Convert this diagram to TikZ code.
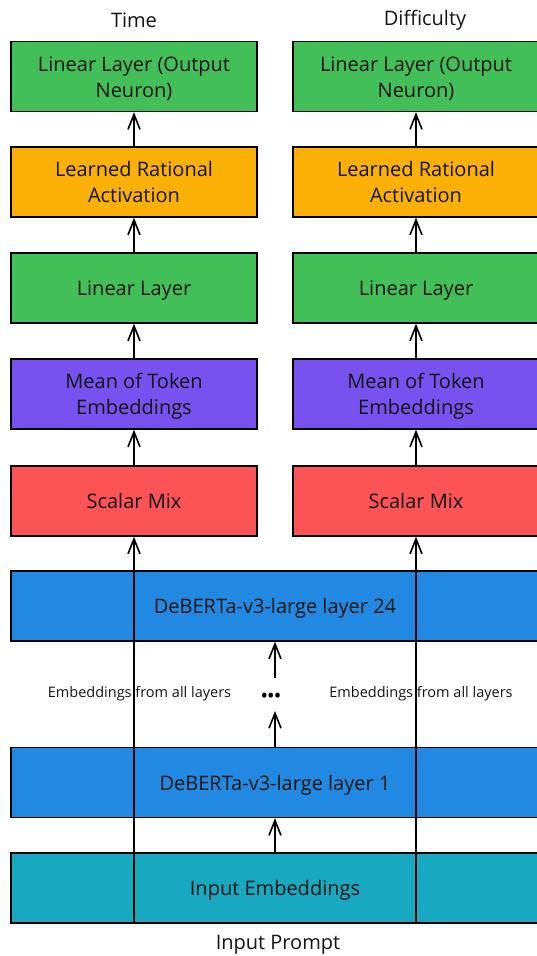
\documentclass[tikz,border=0pt]{standalone}
\usepackage{fontspec}
\setmainfont{Open Sans}
\usetikzlibrary{arrows.meta}
\definecolor{cgreen}{RGB}{66,191,88}
\definecolor{corange}{RGB}{250,176,6}
\definecolor{cpurple}{RGB}{120,82,238}
\definecolor{cred}{RGB}{252,84,86}
\definecolor{cblue}{RGB}{34,137,226}
\definecolor{cteal}{RGB}{24,169,192}
\definecolor{ctext}{RGB}{20,20,20}
\newcommand{\dn}[1]{\raisebox{-7.5pt}[0pt][0pt]{#1}}
\begin{document}
\begin{tikzpicture}[x=1pt,y=-1pt,
  box/.style={draw=black, line width=1.4pt, minimum width=246pt, minimum height=70pt,
    align=center, inner sep=0pt, text=ctext, font=\fontsize{20}{26}\selectfont},
  widebox/.style={box, minimum width=528pt},
  lbl/.style={text=ctext, inner sep=0pt, font=\fontsize{20}{26}\selectfont},
  small/.style={text=ctext, inner sep=0pt, font=\fontsize{14.5}{16}\selectfont},
  arr/.style={line width=1.8pt, -{Straight Barb[length=15pt,width=12pt,line width=1.6pt]}}]
\useasboundingbox (0,0) rectangle (537,956);
\clip (0,0) rectangle (537,956);
% column boxes
\foreach \c/\x in {a/134, b/416}{
  \node[box, fill=cgreen]  (lo\c) at (\x,76.5) {\dn{Linear Layer (Output}\\\dn{Neuron)}};
  \node[box, fill=corange] (ra\c) at (\x,182) {\dn{Learned Rational}\\\dn{Activation}};
  \node[box, fill=cgreen]  (li\c) at (\x,288) {\dn{Linear Layer}};
  \node[box, fill=cpurple] (me\c) at (\x,394) {\dn{Mean of Token}\\\dn{Embeddings}};
  \node[box, fill=cred]    (sm\c) at (\x,501) {\dn{Scalar Mix}};
}
% wide boxes
\node[widebox, fill=cblue] (l24) at (275,606) {\dn{DeBERTa-v3-large layer 24}};
\node[widebox, fill=cblue] (l1)  at (275,782.5) {\dn{DeBERTa-v3-large layer 1}};
\node[widebox, fill=cteal] (ie)  at (275,888) {\dn{Input Embeddings}};
% labels
\node[lbl] (time) at (134,20.5) {Time};
\node[lbl] (diff) at (425,20.5) {Difficulty};
\node[lbl] (prompt) at (278,945) {Input Prompt};
\node[small] (ema) at (139.5,694) {Embeddings from all layers};
\node[small] (emb) at (421,694) {Embeddings from all layers};
\node[inner sep=0pt, text=black, font=\fontsize{16}{16}\selectfont\bfseries] (dots) at (271,697.5) {•\kern0.6pt•\kern0.6pt•};
\coordinate (dtop) at (275,711);
\coordinate (dbot) at (275,678);
% connectors in columns
\foreach \c in {a,b}{
  \draw[arr] (ra\c.north) -- (lo\c.south);
  \draw[arr] (li\c.north) -- (ra\c.south);
  \draw[arr] (me\c.north) -- (li\c.south);
  \draw[arr] (sm\c.north) -- (me\c.south);
  \draw[arr] (ie.south -| sm\c.south) -- (sm\c.south);
}
% middle connectors
\draw[arr] (ie.north) -- (l1.south);
\draw[arr] (l1.north) -- (dtop);
\draw[arr] (dbot) -- (l24.south);
\end{tikzpicture}
\end{document}
